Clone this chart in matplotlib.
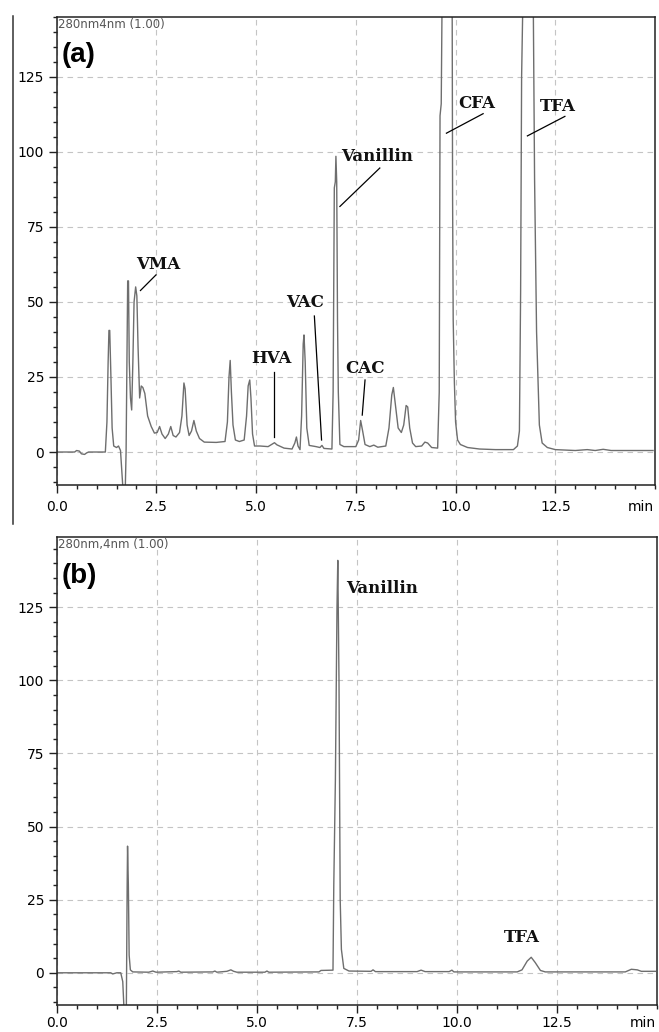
import matplotlib.pyplot as plt
from matplotlib.lines import Line2D
from matplotlib.ticker import MultipleLocator

# chromatogram (a): standard mixture, vertices (min, mAU)
time_a = [0.0, 0.45, 0.5, 0.57, 0.62, 0.7, 0.75, 0.8, 1.22, 1.26, 1.29, 1.31, 1.33, 1.36, 1.39, 1.43,
          1.5, 1.55, 1.6, 1.63, 1.66, 1.72, 1.74, 1.76, 1.78, 1.80, 1.82, 1.85, 1.88, 1.91, 1.94, 1.98,
          2.01, 2.04, 2.08, 2.12, 2.16, 2.21, 2.28, 2.37, 2.45, 2.52, 2.58, 2.64, 2.72, 2.8, 2.86,
          2.92, 2.99, 3.08, 3.14, 3.19, 3.22, 3.27, 3.32, 3.38, 3.44, 3.5, 3.58, 3.7, 4.0, 4.22,
          4.28, 4.32, 4.35, 4.38, 4.42, 4.48, 4.58, 4.7, 4.76, 4.8, 4.84, 4.87, 4.91, 4.96, 5.1,
          5.3, 5.4, 5.46, 5.52, 5.7, 5.9, 5.97, 6.01, 6.05, 6.1, 6.14, 6.18, 6.2, 6.23, 6.27, 6.33,
          6.5, 6.6, 6.65, 6.7, 6.9, 6.93, 6.96, 6.985, 7.0, 7.02, 7.04, 7.06, 7.1, 7.2, 7.5, 7.57,
          7.62, 7.67, 7.73, 7.85, 7.95, 8.05, 8.25, 8.33, 8.4, 8.44, 8.49, 8.56, 8.64, 8.7, 8.76,
          8.8, 8.85, 8.92, 9.0, 9.15, 9.23, 9.3, 9.4, 9.55, 9.59, 9.61, 9.64, 9.66, 9.7, 9.86,
          9.915, 9.925, 9.94, 9.97, 10.0, 10.05, 10.12, 10.3, 10.6, 11.0, 11.45, 11.55, 11.6, 11.63,
          11.655, 11.68, 11.73, 11.9, 11.95, 11.98, 12.03, 12.1, 12.17, 12.3, 12.5, 13.0, 13.3,
          13.5, 13.7, 13.9, 14.95]
signal_a = [0.0, 0.0, 0.5, 0.3, -0.6, -0.8, -0.3, 0.0, 0.0, 10, 30, 40.5, 40.5, 25, 8, 2,
            1.5, 2, 0.5, -6, -12, -12, 0, 30, 57, 57, 30, 18, 14, 30, 50, 55,
            52, 35, 18, 22, 21.5, 19.5, 12, 8.5, 6.3, 6.5, 8.5, 6, 4.5, 6, 8.5,
            5.5, 5, 6.5, 12, 23, 21, 9, 5.5, 7, 10.5, 7, 4.5, 3.3, 3.2, 3.5,
            10, 25, 30.5, 20, 9, 4, 3.5, 4, 12, 22, 24, 18, 6, 2, 2,
            1.8, 2.6, 3.1, 2.4, 1.3, 1, 3, 5, 2, 0.8, 12, 36, 39, 30, 8, 2.2,
            1.8, 1.5, 2.2, 1.2, 1.0, 20, 88, 90, 98.5, 90, 44, 20, 2.5, 1.8, 1.8, 4,
            10.5, 7, 2.5, 1.8, 2.3, 1.6, 2, 8, 19, 21.5, 16, 8, 6.5, 9, 15.5,
            15, 8, 3, 1.8, 2, 3.3, 3, 1.5, 1.3, 20, 112, 116, 145, 300, 300,
            145, 84, 44, 23, 10, 4, 2.5, 1.5, 1.0, 0.8, 0.8, 2, 7, 53,
            125, 145, 300, 300, 145, 91, 40, 9, 3, 1.5, 0.8, 0.5, 0.8,
            0.5, 0.9, 0.5, 0.5]

# chromatogram (b): sample
time_b = [0.0, 1.35, 1.4, 1.45, 1.5, 1.6, 1.65, 1.68, 1.74, 1.76, 1.77, 1.79, 1.81, 1.84, 1.9,
          2.3, 2.4, 2.48, 3.0, 3.05, 3.1, 3.9, 3.95, 4.0, 4.25, 4.35, 4.42, 4.5, 5.2, 5.25, 5.3,
          6.55, 6.6, 6.9, 6.92, 6.96, 7.0, 7.02, 7.05, 7.08, 7.11, 7.17, 7.3, 7.85, 7.9, 7.96,
          9.0, 9.1, 9.2, 9.8, 9.87, 9.92, 11.5, 11.62, 11.75, 11.85, 11.95, 12.08, 12.2, 14.2,
          14.35, 14.5, 14.6, 14.95]
signal_b = [0.0, 0.0, -0.4, -0.2, 0.0, 0.0, -3, -12, -12, 30, 43.3, 30, 6, 1, 0.3,
            0.2, 0.6, 0.2, 0.4, 0.6, 0.2, 0.3, 0.6, 0.2, 0.5, 1.0, 0.5, 0.2, 0.2, 0.6, 0.2,
            0.3, 0.8, 0.9, 30, 66, 125, 141, 100, 25, 8, 1.5, 0.6, 0.5, 1.0, 0.4,
            0.4, 0.9, 0.4, 0.4, 0.9, 0.3, 0.3, 1.0, 4, 5.3, 3.5, 0.8, 0.3, 0.3,
            1.2, 1.0, 0.5, 0.5]

x_ticks = [0.0, 2.5, 5.0, 7.5, 10.0, 12.5]
y_ticks = [0, 25, 50, 75, 100, 125]

# peak labels: (name, text x, text y, line start, line end)
labels_a = [
    ("VMA", 1.99, 59.5, (2.10, 53.8), (2.49, 59.0)),
    ("HVA", 4.89, 28.4, (5.45, 4.9), (5.45, 26.8)),
    ("VAC", 5.76, 47.1, (6.64, 4.0), (6.46, 45.3)),
    ("Vanillin", 7.14, 95.7, (7.10, 81.8), (8.10, 94.6)),
    ("CAC", 7.23, 25.1, (7.66, 12.3), (7.73, 24.0)),
    ("CFA", 10.07, 113.4, (9.77, 106.2), (10.69, 112.7)),
    ("TFA", 12.11, 112.3, (11.80, 105.3), (12.74, 111.8)),
]
labels_b = [
    ("Vanillin", 7.22, 128.6),
    ("TFA", 11.16, 9.3),
]

trace_color = "#6e6e6e"
grid_color = "#c4c4c4"
label_font = dict(family="DejaVu Serif", fontweight="bold", fontsize=12, color="#111111")

fig = plt.figure(figsize=(6.59, 10.32), dpi=100)
ax_a = fig.add_axes([0.086, 0.530, 0.908, 0.4538])
ax_b = fig.add_axes([0.086, 0.0262, 0.9115, 0.4535])


def style_axes(ax, ymax, header, tag, xpad):
    ax.set_xlim(0, 15)
    ax.set_ylim(-11, ymax)
    ax.set_xticks(x_ticks)
    ax.set_yticks(y_ticks)
    ax.xaxis.set_minor_locator(MultipleLocator(0.5))
    ax.yaxis.set_minor_locator(MultipleLocator(5))
    ax.tick_params(which="major", direction="out", length=6, width=1, color="#222222",
                   labelsize=10, pad=3)
    ax.tick_params(which="minor", direction="out", length=3, width=1, color="#222222")
    ax.tick_params(axis="x", which="major", pad=xpad)
    ax.set_xticklabels(["%.1f" % t for t in x_ticks])
    ax.grid(True, which="major", color=grid_color, linestyle=(0, (5, 4)), linewidth=0.8)
    ax.set_axisbelow(True)
    for sp in ax.spines.values():
        sp.set_color("#222222")
        sp.set_linewidth(1.1)
    ax.text(0.003, 0.997, header, transform=ax.transAxes, ha="left", va="top",
            fontsize=8.5, color="#555555")
    ax.text(0.008, 0.945, tag, transform=ax.transAxes, ha="left", va="top",
            fontsize=20, fontweight="bold", family="Liberation Sans")
    ax.annotate("min", xy=(1.0, 0), xycoords="axes fraction", xytext=(-1, -6 - xpad),
                textcoords="offset points", ha="right", va="top", fontsize=10)


# panel (a)
ax_a.plot(time_a, signal_a, color=trace_color, linewidth=1.0)
style_axes(ax_a, 145, "280nm4nm (1.00)", "(a)", 5)
for name, tx, ty, p0, p1 in labels_a:
    ax_a.plot([p0[0], p1[0]], [p0[1], p1[1]], color="black", linewidth=0.9)
    ax_a.text(tx, ty, name, ha="left", va="bottom", **label_font)

# panel (b)
ax_b.plot(time_b, signal_b, color=trace_color, linewidth=1.0)
style_axes(ax_b, 149, "280nm,4nm (1.00)", "(b)", 2)
for name, tx, ty in labels_b:
    ax_b.text(tx, ty, name, ha="left", va="bottom", **label_font)

# stray crop border on the left of the original figure
fig.add_artist(Line2D([13 / 659, 13 / 659], [1 - 16 / 1032, 1 - 524 / 1032],
                      transform=fig.transFigure, color="#333333", linewidth=1.1))

plt.savefig("out.png", dpi=100)
